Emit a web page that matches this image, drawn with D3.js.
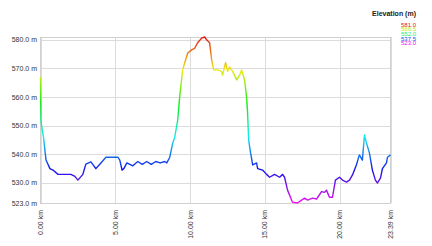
<!DOCTYPE html>
<html lang="en">
<head>
  <meta charset="UTF-8">
  <title>Elevation profile</title>
  <style>
    body { margin: 0; background: #fff; }
    text { font-family: "Liberation Sans", Arial, sans-serif; }
  </style>
</head>
<body>
  <svg id="chart" width="432" height="246"></svg>
  <script src="https://cdn.jsdelivr.net/npm/d3@7"></script>
  <script>
    // distance along the track (km) and elevation (m)
    var distKm = [0.00, 0.03, 0.07, 0.20, 0.37, 0.63, 0.83, 1.17, 1.60, 2.03, 2.30, 2.50, 2.83, 3.03, 3.37, 3.70,
      4.04, 4.37, 4.80, 5.17, 5.30, 5.45, 5.57, 5.77, 6.17, 6.50, 6.80, 7.10, 7.40, 7.70, 8.00, 8.30, 8.44,
      8.64, 8.84, 8.97, 9.17, 9.30, 9.50, 9.64, 9.84, 10.10, 10.30, 10.50, 10.77, 10.97, 11.10, 11.30, 11.44,
      11.57, 11.84, 12.10, 12.17, 12.37, 12.50, 12.64, 12.84, 13.11, 13.31, 13.44, 13.64, 13.77, 13.84, 13.91,
      14.04, 14.18, 14.44, 14.51, 14.84, 15.11, 15.31, 15.64, 15.98, 16.18, 16.31, 16.51, 16.84, 17.17, 17.45,
      17.65, 17.85, 18.18, 18.45, 18.78, 18.98, 19.11, 19.31, 19.51, 19.71, 19.98, 20.18, 20.45, 20.65, 20.85,
      21.11, 21.31, 21.51, 21.65, 21.78, 21.98, 22.18, 22.38, 22.52, 22.72, 22.85, 23.12, 23.19, 23.39];
    var elevM = [567, 552, 550, 546, 538, 535, 534.5, 533, 533, 533, 532.3, 531, 533, 536.6, 537.4, 535,
      537, 539, 539, 539, 538, 534.5, 535, 537, 536, 537.5, 536.5, 537.5, 536.5, 537.5, 537, 537.5, 537,
      539, 544, 546, 552, 560, 569.5, 572, 575.4, 576.5, 577, 579, 580.6, 581, 580, 579, 573,
      569.5, 569.5, 569, 567.7, 572, 569, 570.5, 569, 566, 567.7, 569.5, 566, 560, 554.4, 545,
      540.5, 536.3, 537, 535, 534.5, 533, 532, 533, 532, 533, 532, 527.5, 523.3, 523, 524,
      524.7, 524, 524.7, 524.4, 527, 526.7, 527.5, 525, 525, 531, 532, 531, 530.3, 531, 532.8,
      536.3, 539.8, 538, 546.8, 544, 540.5, 534.5, 531, 530, 531.7, 535, 537, 539, 539.8];

    var xTicks = [0, 5, 10, 15, 20, 23.39];
    var yTicks = [523, 530, 540, 550, 560, 570, 580];
    var legendValues = [581.0, 566.5, 552.0, 537.5, 523.0];

    var svg = d3.select('#chart');
    var plotL = 40.5, plotR = 390.5, plotT = 37, plotB = 203;

    var x = d3.scaleLinear().domain([0, 23.39]).range([plotL, plotR]);
    var y = d3.scaleLinear().domain([523, 581]).range([plotB, plotT]);

    // hue runs from magenta at the lowest point to red at the highest
    function colorOf(v) {
      var t = (v - 523) / (581 - 523);
      return d3.hsl(300 * (1 - t), 0.85, 0.5).toString();
    }

    // grid
    svg.append('g').selectAll('line').data(yTicks).enter().append('line')
      .attr('x1', plotL).attr('x2', plotR)
      .attr('y1', function(d) { return Math.round(y(d)) + 0.5; })
      .attr('y2', function(d) { return Math.round(y(d)) + 0.5; })
      .attr('stroke', '#dcdcdc');
    svg.append('g').selectAll('line').data(xTicks).enter().append('line')
      .attr('x1', function(d) { return Math.round(x(d)) + 0.5; })
      .attr('x2', function(d) { return Math.round(x(d)) + 0.5; })
      .attr('y1', plotT).attr('y2', plotB)
      .attr('stroke', '#dcdcdc');
    svg.append('rect')
      .attr('x', plotL).attr('y', plotT + 0.5)
      .attr('width', plotR - plotL).attr('height', plotB - plotT)
      .attr('fill', 'none').attr('stroke', '#d0d0d0');

    // y labels
    svg.append('g').selectAll('text').data(yTicks).enter().append('text')
      .attr('x', 37).attr('y', function(d) { return y(d) + 2.5; })
      .attr('text-anchor', 'end').attr('font-size', 7).attr('fill', '#333')
      .text(function(d) { return d.toFixed(1) + ' m'; });

    // x labels, turned to read upward
    svg.append('g').selectAll('text').data(xTicks).enter().append('text')
      .attr('transform', function(d) { return 'translate(' + (x(d) + 2.5) + ',210) rotate(-90)'; })
      .attr('text-anchor', 'end').attr('font-size', 7).attr('fill', '#333')
      .text(function(d) { return d.toFixed(2) + ' km'; });

    // gradient for the profile line
    var grad = svg.append('defs').append('linearGradient')
      .attr('id', 'elevGrad').attr('gradientUnits', 'userSpaceOnUse')
      .attr('x1', 0).attr('x2', 0).attr('y1', y(523)).attr('y2', y(581));
    d3.range(0, 11).forEach(function(i) {
      var v = 523 + (581 - 523) * i / 10;
      grad.append('stop').attr('offset', (i * 10) + '%').attr('stop-color', colorOf(v));
    });

    var pts = distKm.map(function(d, i) { return [d, elevM[i]]; });
    var line = d3.line().x(function(d) { return x(d[0]); }).y(function(d) { return y(d[1]); });
    svg.append('path').datum(pts)
      .attr('d', line)
      .attr('fill', 'none')
      .attr('stroke', 'url(#elevGrad)')
      .attr('stroke-width', 1.4)
      .attr('stroke-linejoin', 'round');

    // legend
    svg.append('text')
      .attr('x', 416).attr('y', 15.5)
      .attr('text-anchor', 'end').attr('font-size', 7).attr('font-weight', 'bold').attr('fill', '#222')
      .text('Elevation (m)');
    svg.append('g').selectAll('text').data(legendValues).enter().append('text')
      .attr('x', 416).attr('y', function(d, i) { return 26.5 + i * 4.7; })
      .attr('text-anchor', 'end').attr('font-size', 6)
      .attr('fill', function(d) { return colorOf(d); })
      .text(function(d) { return d.toFixed(1); });
  </script>
</body>
</html>
